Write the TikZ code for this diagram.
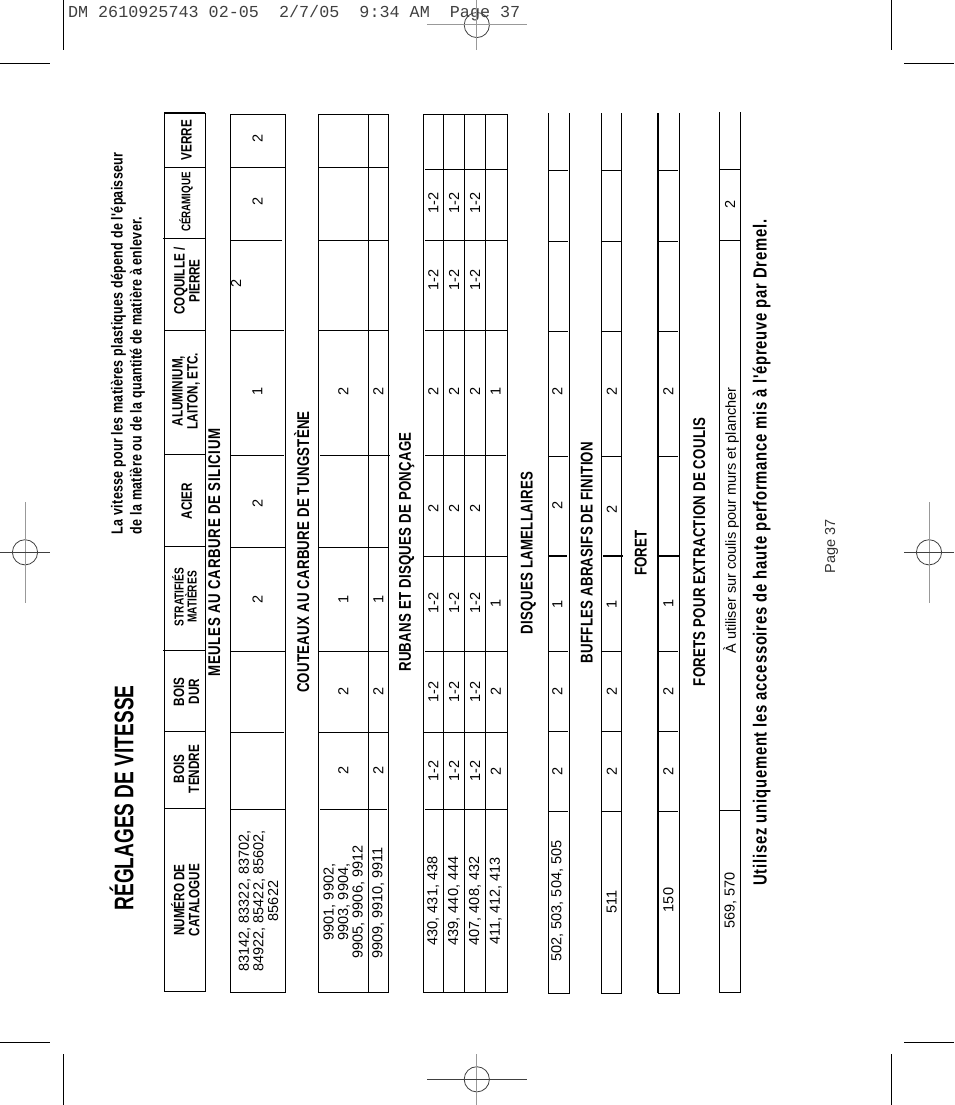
\documentclass[tikz,border=0pt]{standalone}
\usepackage{fontspec}
\setmainfont{Liberation Sans}
\setmonofont{Liberation Mono}
\newfontfamily\condfont[FakeStretch=0.78]{Liberation Sans}
\newfontfamily\titlefont[FakeStretch=0.71]{Liberation Sans}
\newcommand{\pxfont}[1]{\fontsize{#1}{#1}\selectfont}
\begin{document}
\begin{tikzpicture}[x=1pt,y=-1pt,inner sep=0pt,outer sep=0pt,line width=1pt,
headcell/.style={rotate=90,align=center,font=\condfont\bfseries\pxfont{15}},
smallhead/.style={rotate=90,align=center,font=\condfont\bfseries\pxfont{13}},
sechead/.style={rotate=90,font=\condfont\bfseries\pxfont{17}\addfontfeature{LetterSpace=1.5}},
numcell/.style={rotate=90,align=center,font=\fontsize{14.5}{14.6}\selectfont},
cropdark/.style={line width=0.8pt,black!75},
cropgray/.style={line width=1pt,black!40},
cropline/.style={line width=0.9pt}]
\useasboundingbox (0,0) rectangle (954,1105);

\draw (68,13) node[anchor=west,text=black!75,font=\ttfamily\pxfont{16.75}] (slug) {DM 2610925743 02-05~~2/7/05~~9:34 AM~~Page 37};

\draw[cropline] (63.3,0) -- (63.3,50);
\draw[cropline] (0,63.3) -- (50,63.3);
\draw[cropline] (891,0) -- (891,50);
\draw[cropline] (904,63.3) -- (954,63.3);
\draw[cropline] (63.3,1054) -- (63.3,1105);
\draw[cropline] (0,1042.3) -- (50,1042.3);
\draw[cropline] (891,1054) -- (891,1105);
\draw[cropline] (904,1042.3) -- (954,1042.3);

\foreach \cx/\cy in {476.8/25,476.8/1079.3,25/552.3,929/552.3}{
  \draw[cropdark] (\cx,\cy) circle (12.6);
}
\draw[cropgray] (476.8,0) -- (476.8,50);
\draw[cropgray] (426.8,25) -- (526.8,25);
\draw[cropgray] (476.8,1054) -- (476.8,1105);
\draw[cropdark] (427,1079.3) -- (527,1079.3);
\draw[cropgray] (25,502.3) -- (25,602.7);
\draw[cropdark] (0,552.3) -- (50,552.3);
\draw[cropgray] (929,502.3) -- (929,602.7);
\draw[cropdark] (904,552.3) -- (954,552.3);

\draw (121.5,798) node[rotate=90,font=\titlefont\bfseries\pxfont{26.9}] (title) {RÉGLAGES DE VITESSE};
\draw (128,534) node[rotate=90,anchor=west,align=left,font=\condfont\bfseries\fontsize{16}{19}\selectfont\addfontfeature{LetterSpace=1.8}] (intro) {La vitesse pour les matières plastiques dépend de l'épaisseur\\de la matière ou de la quantité de matière à enlever.};

% header band
\draw (164.3,113.8) rectangle (205.3,991);
\draw[line width=2pt] (164.3,113) -- (205.3,113);
\foreach \ypos/\xa in {167.3/164.3,238.3/163,330/164.3,454.3/164.3,546/164.3,650.3/163,731.3/164.3,808.3/164.3}{
  \draw (\xa,\ypos) -- (205.3,\ypos);
}
\draw (186.5,140) node[headcell] (verre) {VERRE};
\draw (186,202) node[smallhead,font=\condfont\bfseries\pxfont{12.5}] (ceram) {CÉRAMIQUE};
\draw (186.8,281) node[headcell] (coquille) {COQUILLE /\\PIERRE};
\draw (186,391) node[headcell] (alu) {ALUMINIUM,\\LAITON, ETC.};
\draw (186.7,501) node[headcell] (acier) {ACIER};
\draw (184.5,597) node[smallhead] (strat) {STRATIFIÉS\\MATIÈRES};
\draw (186.5,691.7) node[headcell] (dur) {BOIS\\DUR};
\draw (186.3,769) node[headcell] (tendre) {BOIS\\TENDRE};
\draw (185.3,900) node[headcell] (cat) {NUMÉRO DE\\CATALOGUE};

% meules
\draw (214.3,552.5) node[sechead,font=\condfont\bfseries\pxfont{17}\addfontfeature{LetterSpace=4}] (meules) {MEULES AU CARBURE DE SILICIUM};
\draw (230.3,114.3) rectangle (285.3,992);
\foreach \ypos/\xb in {167.5/285.3,240/282,330.3/284,455/284,547.3/285.3,651/285.3,732.5/284,809/285.3}{
  \draw (230.3,\ypos) -- (\xb,\ypos);
}
\draw (258.5,901) node[numcell] (m1) {83142, 83322, 83702,\\84922, 85422, 85602,\\85622};
\foreach \ypos/\val in {138.3/2,201.7/2,391.7/1,503/2,599/2}{
  \draw (257.5,\ypos) node[numcell] (mv\ypos) {\val};
}
\draw (236,283) node[numcell] (mcoq) {2};

% couteaux
\draw (301.7,552) node[sechead] (couteaux) {COUTEAUX AU CARBURE DE TUNGSTÈNE};
\draw (318.3,114.3) rectangle (388.3,992);
\draw (368.3,114.3) -- (368.3,992);
\foreach \ypos/\xa/\xb in {167.5/318.3/388.3,240/318.3/388.3,330.3/318.3/388.3,455/320/390,547.3/318.3/388.3,651/318.3/388.3,732.5/318.3/388.3,809/320/387}{
  \draw (\xa,\ypos) -- (\xb,\ypos);
}
\draw (344,902) node[numcell] (c1) {9901, 9902,\\9903, 9904,\\9905, 9906, 9912};
\draw (378.3,903) node[numcell] (c2) {9909, 9910, 9911};
\foreach \ypos/\val in {391.7/2,599/1,691.7/2,770/2}{
  \draw (343.3,\ypos) node[numcell] (ca\ypos) {\val};
  \draw (378.3,\ypos) node[numcell] (cb\ypos) {\val};
}

% rubans
\draw (406.7,552) node[sechead] (rubans) {RUBANS ET DISQUES DE PONÇAGE};
\draw (423.3,114.3) rectangle (507.6,992);
\foreach \xpos in {443.3,464.3,485.3}{
  \draw (\xpos,114.3) -- (\xpos,992);
}
\foreach \ypos/\xa/\xb in {169.5/425/507.6,240.3/425/507.6,330.3/425/507.6,455.3/425/506,556.3/423.3/507.6,651.3/425/507.6,732.3/423.3/507.6,809.3/425/507.6}{
  \draw (\xa,\ypos) -- (\xb,\ypos);
}
\foreach \xpos/\cname/\codes in {433.3/r1/{430, 431, 438},454/r2/{439, 440, 444},475/r3/{407, 408, 432}}{
  \draw (\xpos,901) node[numcell] (\cname) {\codes};
  \foreach \ypos/\val in {203/1-2,280/1-2,391/2,508/2,603/1-2,691.7/1-2,771/1-2}{
    \draw (\xpos,\ypos) node[numcell] (\cname v\ypos) {\val};
  }
}
\draw (495.7,901) node[numcell] (r4) {411, 412, 413};
\foreach \ypos/\val in {391/1,603/1,691.7/2,771/2}{
  \draw (495.7,\ypos) node[numcell] (rd\ypos) {\val};
}

% disques lamellaires
\draw (528.3,553) node[sechead] (lamelle) {DISQUES LAMELLAIRES};
\draw (548.3,113.5) -- (548.3,993) -- (569,993) -- (569,113.5);
\foreach \ypos in {170.3,241.3,331.3,456.3,651.3,731.7,811.3}{
  \draw (548.3,\ypos) -- (568,\ypos);
}
\draw[line width=2pt] (549,556) -- (567,556);
\draw (557.3,901) node[numcell] (d1) {502, 503, 504, 505};
\foreach \ypos/\val in {391/2,505/2,604/1,691.7/2,771/2}{
  \draw (557.3,\ypos) node[numcell] (dv\ypos) {\val};
}

% buffles
\draw (586.7,552.5) node[sechead] (buffles) {BUFFLES ABRASIFS DE FINITION};
\draw (601.7,113.5) -- (601.7,993) -- (621.3,993) -- (621.3,113.5);
\foreach \ypos in {170.3,241.3,331.3,456.3,651.3,731.7,811.3}{
  \draw (601.7,\ypos) -- (621.3,\ypos);
}
\draw[line width=2pt] (603,556) -- (622.7,556);
\draw (611.7,901.7) node[numcell] (b1) {511};
\foreach \ypos/\val in {391/2,509/2,604/1,691.7/2,771/2}{
  \draw (611.7,\ypos) node[numcell] (bv\ypos) {\val};
}

% foret
\draw (640.7,553) node[sechead] (foret) {FORET};
\draw[line width=2.4pt] (658,113.5) -- (658,993);
\draw (658,993) -- (679,993) -- (679,113.5);
\foreach \ypos in {170.3,241.3,331.3,456.3,651.3,731.7,811.3}{
  \draw (659,\ypos) -- (678,\ypos);
}
\draw[line width=2pt] (659,556) -- (679,556);
\draw (668.3,900) node[numcell] (f1) {150};
\foreach \ypos/\val in {391/2,603/1,691.7/2,771/2}{
  \draw (668.3,\ypos) node[numcell] (fv\ypos) {\val};
}

% coulis
\draw (699.3,552) node[sechead] (coulis) {FORETS POUR EXTRACTION DE COULIS};
\draw (719.3,112) -- (719.3,992) -- (740.3,992) -- (740.3,112);
\foreach \ypos in {169.3,240.7,810.3}{
  \draw (719.3,\ypos) -- (740.3,\ypos);
}
\draw (730.5,900.7) node[numcell] (p1) {569, 570};
\draw (730,204) node[numcell] (p2) {2};
\draw (731,520.5) node[numcell] (p3) {À utiliser sur coulis pour murs et plancher};

\draw (761.7,552.5) node[rotate=90,font=\condfont\bfseries\pxfont{19}\addfontfeature{LetterSpace=4.2}] (notice) {Utilisez uniquement les accessoires de haute performance mis à l'épreuve par Dremel.};
\draw (831.5,546) node[numcell,text=black!80] (page) {Page 37};
\end{tikzpicture}
\end{document}
